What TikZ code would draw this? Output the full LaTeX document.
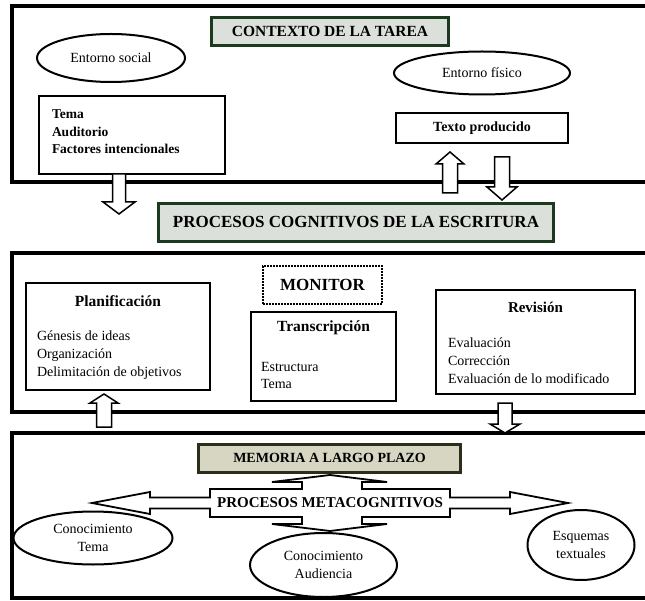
\documentclass[tikz,border=0pt]{standalone}
\usepackage{fontspec}
\setmainfont{Liberation Serif}
\usepackage{xcolor}
\usepackage{tikz}
\usetikzlibrary{shapes.geometric,positioning,calc}

\definecolor{titlefill}{RGB}{220,224,218}
\definecolor{titleline}{RGB}{28,58,30}
\definecolor{memfill}{RGB}{214,214,194}
\definecolor{memline}{RGB}{44,46,26}

%% hollow block arrow: tail, tip, shaft half width, head half width, head length
\newcommand{\blockarrow}[5]{%
  \draw[blockarr] let \p1=#1, \p2=#2, \n1={ifthenelse(\y2>\y1,1,-1)} in
    (\x1-#3,\y1) -- (\x1-#3,\y2-\n1*#5) -- (\x1-#4,\y2-\n1*#5) -- (\x1,\y2)
    -- (\x1+#4,\y2-\n1*#5) -- (\x1+#3,\y2-\n1*#5) -- (\x1+#3,\y1) -- cycle;}

\begin{document}
\begin{tikzpicture}[x=1pt, y=-1pt,
  every node/.style={inner sep=0pt, outer sep=0pt},
  frame/.style={draw, line width=4.5pt},
  titlebox/.style={draw=titleline, fill=titlefill, line width=3pt},
  membox/.style={draw=memline, fill=memfill, line width=3pt},
  box/.style={draw, line width=2.5pt},
  oval/.style={draw, ellipse, line width=2pt, align=center,
    font=\fontsize{14}{18}\selectfont},
  head/.style={font=\fontsize{15.5}{18}\selectfont\bfseries},
  items/.style={anchor=north west, align=left,
    font=\fontsize{14}{18}\selectfont},
  blockarr/.style={draw, fill=white, line width=1.5pt, line join=miter},
]

\useasboundingbox (0,0) rectangle (645,601);

%% Frames (right side runs off the page)
\draw[frame] (12,6)   rectangle (652,182);
\draw[frame] (12,253) rectangle (652,412);
\draw[frame] (12,433) rectangle (652,598);

%% Task context
\node[titlebox, minimum width=237pt, minimum height=28pt,
      font=\fontsize{15.5}{18}\selectfont\bfseries]
  (contexto) at (330,31.5) {CONTEXTO DE LA TAREA};
\node[oval, minimum width=148pt, minimum height=48pt] (social) at (111,58) {Entorno social};
\node[oval, minimum width=176pt, minimum height=43pt] (fisico) at (482,73) {Entorno físico};
\node[box, minimum width=186pt, minimum height=78pt] (tema) at (132,135) {};
\node[items, font=\fontsize{13.5}{17.5}\selectfont\bfseries] (temalist) at (52,110)
  {Tema\\Auditorio\\Factores intencionales};
\node[box, minimum width=172pt, minimum height=30pt,
      font=\fontsize{14}{18}\selectfont\bfseries]
  (textoprod) at (482,128) {Texto producido};

%% Writing processes
\node[titlebox, minimum width=395pt, minimum height=38pt,
      font=\fontsize{17}{20}\selectfont\bfseries]
  (procog) at (356,222.5) {PROCESOS COGNITIVOS DE LA ESCRITURA};
\node[draw, line width=2.5pt, dash pattern=on 2pt off 1pt,
      minimum width=119pt, minimum height=38pt,
      font=\fontsize{17}{20}\selectfont\bfseries]
  (monitor) at (322.5,285) {MONITOR};

\node[box, minimum width=184pt, minimum height=107pt] (planif) at (118,336.5) {};
\node[head] (planiftit) at (118,301) {Planificación};
\node[items] (planiflist) at (37,331)
  {Génesis de ideas\\Organización\\Delimitación de objetivos};

\node[box, minimum width=145pt, minimum height=89pt] (transc) at (323.5,356.5) {};
\node[head] (transctit) at (323.5,328) {Transcripción};
\node[items, font=\fontsize{14}{17}\selectfont] (transclist) at (261,362.5)
  {Estructura\\Tema};

\node[box, minimum width=199pt, minimum height=104pt] (revision) at (535.5,342) {};
\node[head, font=\fontsize{15}{18}\selectfont\bfseries] (revtit) at (535.5,307) {Revisión};
\node[items] (revlist) at (448,337.5)
  {Evaluación\\Corrección\\Evaluación de lo modificado};

%% Long term memory
\node[membox, minimum width=262pt, minimum height=28pt,
      font=\fontsize{14}{17}\selectfont\bfseries]
  (memoria) at (329.5,458) {MEMORIA A LARGO PLAZO};

\coordinate (metac) at (330,503);
\draw[blockarr, line width=1.8pt, shift={(metac)}]
  (-238,0) -- (-180,-11) -- (-180,-5.5) -- (-120,-5.5) -- (-120,-14)
  -- (-28,-14) -- (-28,-21) -- (-58,-21) -- (0,-28) -- (57,-21) -- (32,-21)
  -- (32,-14) -- (120,-14) -- (120,-5.5) -- (180,-5.5) -- (180,-11) -- (238,0)
  -- (180,11) -- (180,5.5) -- (120,5.5) -- (120,14) -- (32,14) -- (32,21)
  -- (57,21) -- (0,28) -- (-58,21) -- (-28,21) -- (-28,14) -- (-120,14)
  -- (-120,5.5) -- (-180,5.5) -- (-180,11) -- cycle;
\node[font=\fontsize{15}{18}\selectfont\bfseries] (meta) at (metac)
  {PROCESOS METACOGNITIVOS};

\node[oval, minimum width=159pt, minimum height=53pt] (contema) at (93,538)
  {Conocimiento\\Tema};
\node[oval, minimum width=147pt, minimum height=64pt] (conaud) at (323.5,565)
  {Conocimiento\\Audiencia};
\node[oval, minimum width=107pt, minimum height=70pt] (esquemas) at (581,545)
  {Esquemas\\textuales};

%% Block arrows
\coordinate (a1s) at ([xshift=-13pt]tema.south);
\coordinate (a1e) at (119,214);
\blockarrow{(a1s)}{(a1e)}{6.5pt}{16pt}{12pt}

\coordinate (a2s) at (450,193);
\coordinate (a2e) at (450,152);
\blockarrow{(a2s)}{(a2e)}{7.5pt}{14pt}{12pt}

\coordinate (a3s) at (502,157);
\coordinate (a3e) at (502,200);
\blockarrow{(a3s)}{(a3e)}{7.5pt}{15pt}{13pt}

\coordinate (a4s) at (104,427);
\coordinate (a4e) at (104,394);
\blockarrow{(a4s)}{(a4e)}{7.5pt}{14pt}{9pt}

\coordinate (a5s) at (505,403);
\coordinate (a5e) at (505,433);
\blockarrow{(a5s)}{(a5e)}{7pt}{15pt}{9pt}

\end{tikzpicture}
\end{document}
